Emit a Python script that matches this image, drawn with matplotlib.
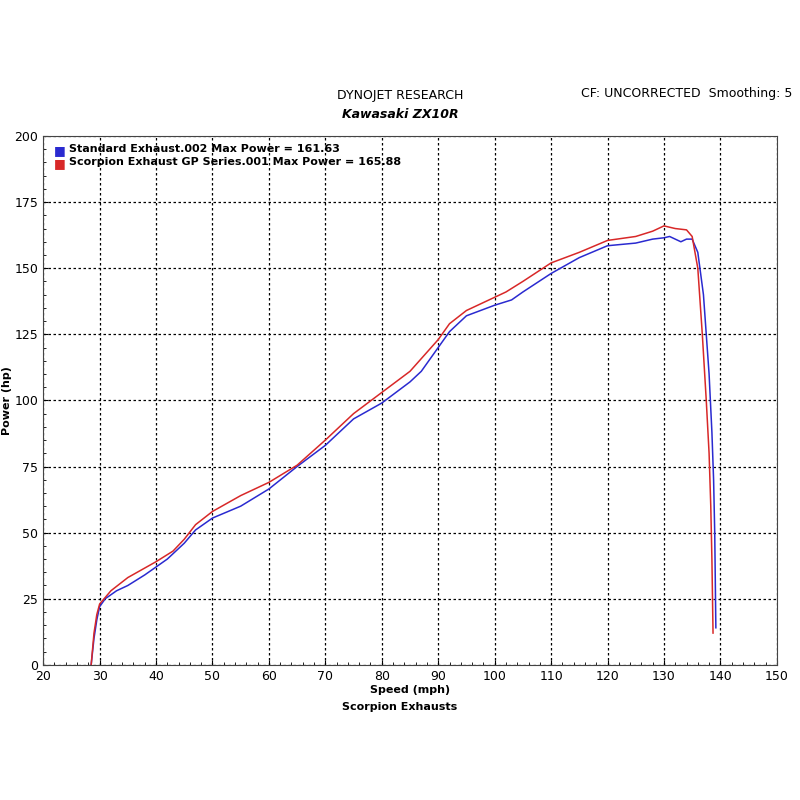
import matplotlib.pyplot as plt
from matplotlib.ticker import MultipleLocator

# standard exhaust (blue)
std_mph = [28.5, 29, 29.5, 30, 31, 33, 35, 38, 40, 42, 45, 47, 50, 55, 60, 65, 70, 75, 80, 85, 87, 90, 92, 95,
           100, 103, 105, 110, 115, 120, 125, 128, 130, 131, 132, 133, 134, 135, 136, 137, 137.5, 138, 138.5, 138.8, 139, 139.2]
std_hp = [0, 10, 17, 22, 25, 28, 30, 34, 37, 40, 46, 51, 55.5, 60, 66.5, 75, 83, 93, 99, 107, 111, 120, 126, 132,
          136, 138, 141, 148, 154, 158.5, 159.5, 161, 161.5, 162, 161, 160, 161, 161, 156, 140, 125, 110, 88, 70, 50, 14]

# scorpion exhaust (red)
gp_mph = [28.5, 29, 29.5, 30, 32, 35, 40, 43, 45, 47, 50, 55, 60, 65, 70, 75, 80, 85, 90, 92, 95,
          100, 102, 105, 110, 115, 120, 125, 128, 130, 131, 132, 134, 135, 136, 136.8, 137.5, 138, 138.3, 138.5, 138.7]
gp_hp = [0, 12, 19, 23, 28, 33, 39, 43, 47.5, 53, 58, 64, 69, 75.5, 85, 95, 103, 111, 123, 129, 134,
         139, 141, 145, 152, 156, 160.5, 162, 164, 166, 165.5, 165, 164.5, 162, 150, 125, 100, 80, 60, 40, 12]

fig = plt.figure(figsize=(8, 8), dpi=100)
ax = fig.add_axes([0.054, 0.169, 0.917, 0.661])

ax.plot(std_mph, std_hp, color='#2a2ad0', lw=1.1)
ax.plot(gp_mph, gp_hp, color='#d82828', lw=1.1)

ax.set_xlim(20, 150)
ax.set_ylim(0, 200)
ax.xaxis.set_major_locator(MultipleLocator(10))
ax.xaxis.set_minor_locator(MultipleLocator(2))
ax.yaxis.set_major_locator(MultipleLocator(25))
ax.yaxis.set_minor_locator(MultipleLocator(5))
ax.grid(True, which='major', color='black', linestyle=(0, (2, 2)), lw=0.9)
ax.tick_params(which='both', direction='in', labelsize=9)
for s in ax.spines.values():
    s.set_color('#444444')

ax.set_xlabel('Speed (mph)', fontsize=8, fontweight='bold', labelpad=2)
ax.set_ylabel('Power (hp)', fontsize=8, fontweight='bold')
ax.yaxis.set_label_coords(-0.043, 0.5)

ax.text(0.015, 0.985, '\u25a0', color='#2a2ad0', fontsize=9, transform=ax.transAxes, va='top')
ax.text(0.035, 0.985, 'Standard Exhaust.002 Max Power = 161.63', fontsize=8, fontweight='bold',
        transform=ax.transAxes, va='top')
ax.text(0.015, 0.96, '\u25a0', color='#d82828', fontsize=9, transform=ax.transAxes, va='top')
ax.text(0.035, 0.96, 'Scorpion Exhaust GP Series.001 Max Power = 165.88', fontsize=8, fontweight='bold',
        transform=ax.transAxes, va='top')

fig.text(0.5, 0.876, 'DYNOJET RESEARCH', ha='center', fontsize=9)
fig.text(0.5, 0.852, 'Kawasaki ZX10R', ha='center', fontsize=9, fontweight='bold', style='italic')
fig.text(0.99, 0.879, 'CF: UNCORRECTED  Smoothing: 5', ha='right', fontsize=9)
fig.text(0.5, 0.112, 'Scorpion Exhausts', ha='center', fontsize=8, fontweight='bold')

fig.savefig('out.png', dpi=100)
